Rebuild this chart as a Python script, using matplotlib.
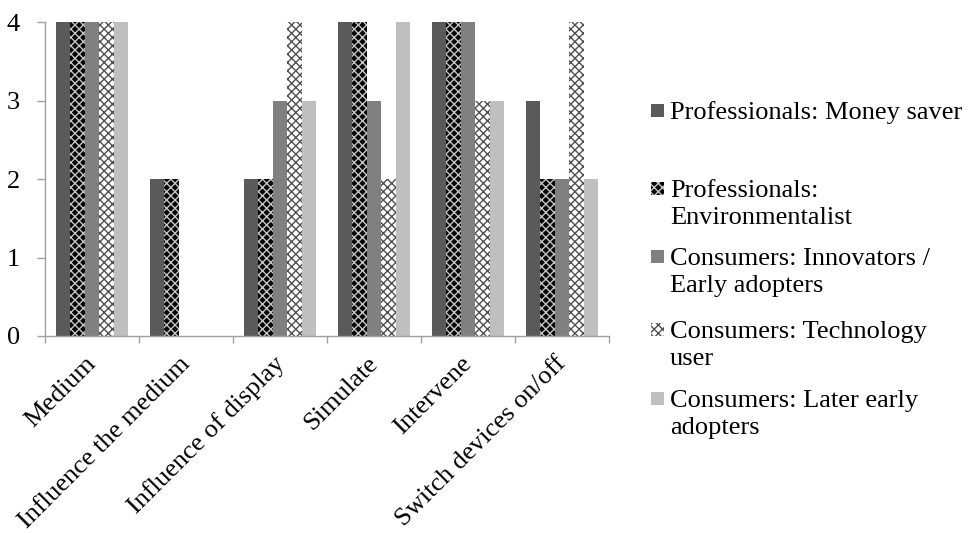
import matplotlib
matplotlib.use("Agg")
import matplotlib.pyplot as plt
import matplotlib.transforms as mtransforms
from matplotlib.patches import Rectangle
import numpy as np

categories = ["Medium", "Influence the medium", "Influence of display",
              "Simulate", "Intervene", "Switch devices on/off"]
series_names = ["Professionals: Money saver",
                "Professionals:\nEnvironmentalist",
                "Consumers: Innovators /\nEarly adopters",
                "Consumers: Technology\nuser",
                "Consumers: Later early\nadopters"]
money_saver = [4, 2, 2, 4, 4, 3]
environmentalist = [4, 2, 2, 4, 4, 2]
innovators = [4, 0, 3, 3, 4, 2]
technology_user = [4, 0, 4, 2, 3, 4]
later_early = [4, 0, 3, 4, 3, 2]
y_ticks = [0, 1, 2, 3, 4]

values = [money_saver, environmentalist, innovators, technology_user, later_early]
styles = [
    dict(facecolor="#5a5a5a", edgecolor="#5a5a5a", hatch=None),
    dict(facecolor="#050505", edgecolor="#c4c4c4", hatch="xxxx"),
    dict(facecolor="#808080", edgecolor="#808080", hatch=None),
    dict(facecolor="#ffffff", edgecolor="#505050", hatch="xxxx"),
    dict(facecolor="#bfbfbf", edgecolor="#bfbfbf", hatch=None),
]

plt.rcParams["font.family"] = ["Liberation Serif", "DejaVu Serif"]
plt.rcParams["hatch.linewidth"] = 1.0

W, H = 968, 533
FS = 19
fig = plt.figure(figsize=(W / 100, H / 100), dpi=100)
ax = fig.add_axes([45 / W, 1 - 336 / H, 564 / W, 314 / H])

x = np.arange(len(categories))
n = len(values)
group = 0.77
w = group / n
for i, (vals, st, name) in enumerate(zip(values, styles, series_names)):
    ax.bar(x - group / 2 + w * (i + 0.5), vals, width=w, label=name,
           facecolor=st["facecolor"], edgecolor=st["edgecolor"],
           hatch=st["hatch"], linewidth=0)

ax.set_xlim(-0.5, len(categories) - 0.5)
ax.set_ylim(0, 4)
ax.set_yticks(y_ticks)
ax.set_yticklabels([str(t) for t in y_ticks], fontsize=FS)
ax.tick_params(axis="y", length=6, width=1, color="#a0a0a0", pad=12)

# category boundaries carry the tick marks, labels sit at the centres
ax.set_xticks(np.arange(len(categories) + 1) - 0.5)
ax.set_xticklabels([""] * (len(categories) + 1))
ax.tick_params(axis="x", which="major", length=5, width=1, color="#a0a0a0")
ax.set_xticks(x, minor=True)
ax.set_xticklabels(categories, minor=True, rotation=45, ha="right",
                   rotation_mode="anchor", fontsize=FS)
ax.tick_params(axis="x", which="minor", length=0, pad=14)
shift = mtransforms.ScaledTranslation(-7 / 100, 3 / 100, fig.dpi_scale_trans)
for lbl in ax.get_xticklabels(minor=True):
    lbl.set_transform(lbl.get_transform() + shift)

for s in ["top", "right"]:
    ax.spines[s].set_visible(False)
for s in ["left", "bottom"]:
    ax.spines[s].set_color("#a0a0a0")
    ax.spines[s].set_linewidth(1.0)

# legend drawn as swatches plus wrapped labels
first_baselines = [119, 197, 265, 338, 407]
line_gap = 27
sw = 13
for name, st, base in zip(series_names, styles, first_baselines):
    cy = base - 8.5
    fig.patches.append(Rectangle((651 / W, 1 - (cy + sw / 2) / H), sw / W, sw / H,
                                 transform=fig.transFigure,
                                 facecolor=st["facecolor"],
                                 edgecolor=st["edgecolor"],
                                 hatch=st["hatch"], linewidth=0))
    for k, line in enumerate(name.split("\n")):
        fig.text(670 / W, 1 - (base + k * line_gap) / H, line,
                 fontsize=FS, ha="left", va="baseline", color="#000000")

fig.savefig("out.png", dpi=100)
